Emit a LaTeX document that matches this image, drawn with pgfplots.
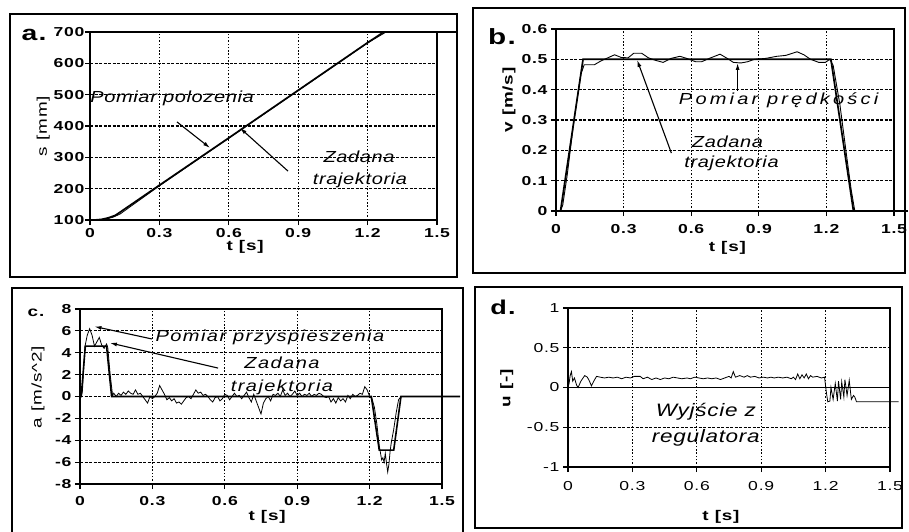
\documentclass[border=0pt]{standalone}
\usepackage{pgfplots}
\pgfplotsset{compat=1.18}
\usepackage{fontspec}
\setmainfont{Liberation Sans}
\newfontfamily\wide[FakeStretch=1.35,LetterSpace=6]{Liberation Sans}
\newfontfamily\note[FakeStretch=1.25,LetterSpace=4]{Liberation Sans}
\usetikzlibrary{arrows.meta}

\newcommand\tk{\wide\bfseries\fontsize{13}{14}\selectfont}
\newcommand\tkl{\wide\fontsize{13}{14}\selectfont}
\newcommand\lab{\wide\bfseries\fontsize{14}{15}\selectfont}
\newcommand\ann{\note\itshape\fontsize{16}{17}\selectfont}

\pgfplotsset{
  panel/.style={
    scale only axis,
    anchor=south west,
    xmin=0, xmax=1.5,
    xtick={0,0.3,0.6,0.9,1.2,1.5},
    axis line style={line width=1.4pt},
    tick style={line width=1.1pt,black},
    tick align=outside,
    major tick length=5pt,
    xtick pos=bottom, ytick pos=left,
    grid=major,
    x grid style={line width=1.2pt, black, dash pattern=on 1.5pt off 1.8pt},
    y grid style={line width=1.1pt, black, dash pattern=on 3pt off 1.5pt},
    tick label style={font=\tk},
    /pgf/number format/assume math mode=true,
    label style={font=\lab, anchor=center},
    clip=false,
  },
}
\tikzset{arr/.style={line width=1.1pt, -{Latex[length=7pt,width=4pt]}}}

\begin{document}
\begin{tikzpicture}[x=1pt,y=1pt]
\path[use as bounding box] (0,0) rectangle (909,531);

% frames
\draw[line width=1.6pt] (10,517) rectangle (457,254);
\draw[line width=1.6pt] (473,523) rectangle (905,258);
\draw[line width=1.6pt] (12,243) rectangle (463,-2);
\draw[line width=1.6pt] (475,244) rectangle (902,3);

\node[font=\wide\bfseries\fontsize{21}{21}\selectfont] at (34,496) {a.};
\node[font=\wide\bfseries\fontsize{22}{22}\selectfont] at (502,494) {b.};
\node[font=\wide\bfseries\fontsize{14}{14}\selectfont] at (36,218) {c.};
\node[font=\wide\bfseries\fontsize{20}{20}\selectfont] at (503,224) {d.};

% ---------- a ----------
\begin{axis}[panel, at={(90pt,311pt)}, width=347pt, height=188pt,
  ymin=100, ymax=700, ytick={100,200,300,400,500,600,700},
  yticklabel style={xshift=3pt},
  xlabel={t [s]}, ylabel={s [mm]},
  xlabel style={at={(axis description cs:0.447,-0.144)}},
  ylabel style={at={(axis description cs:-0.135,0.5)}, font=\wide\fontsize{14}{15}\selectfont}]
\addplot[black, line width=1.7pt] coordinates {
  (0,100) (0.02,100) (0.05,102) (0.08,107) (0.11,115) (0.13,125)
  (0.3,211) (0.6,362) (0.9,514) (1.2,666) (1.27,700) (1.585,700)};
\addplot[black, line width=0.8pt] coordinates {
  (0,100) (0.04,100) (0.07,103) (0.10,109) (0.13,119) (0.16,135)
  (0.3,209) (0.6,361) (0.9,513) (1.2,665) (1.28,700) (1.5,700)};
\node[font=\ann] at (axis cs:0.355,489) {Pomiar polozenia};
\node[font=\ann] at (axis cs:1.163,301) {Zadana};
\node[font=\ann] at (axis cs:1.167,228) {trajektoria};
\draw[arr] (axis cs:0.376,413) -- (axis cs:0.519,330);
\draw[arr] (axis cs:0.856,256) -- (axis cs:0.648,394);
\end{axis}

% ---------- b ----------
\begin{axis}[panel, at={(556pt,320pt)}, width=338pt, height=182pt,
  ymin=0, ymax=0.6, ytick={0,0.1,0.2,0.3,0.4,0.5,0.6},
  xticklabel style={yshift=-5pt},
  xlabel={t [s]}, ylabel={v [m/s]},
  xlabel style={at={(axis description cs:0.507,-0.203)}},
  ylabel style={at={(axis description cs:-0.139,0.61)}}]
\addplot[black, line width=1.7pt] coordinates {
  (0,0) (0.02,0) (0.12,0.5) (1.22,0.5) (1.32,0) (1.562,0)};
\addplot[black, line width=0.9pt] coordinates {
  (0,0) (0.02,0) (0.03,0.02) (0.05,0.12) (0.08,0.3) (0.11,0.45) (0.125,0.482)
  (0.17,0.482) (0.2,0.495) (0.23,0.505) (0.26,0.515) (0.29,0.506) (0.32,0.505)
  (0.345,0.52) (0.38,0.52) (0.41,0.505) (0.44,0.497) (0.475,0.49) (0.51,0.503)
  (0.55,0.51) (0.58,0.503) (0.62,0.492) (0.646,0.492) (0.68,0.503) (0.728,0.517)
  (0.76,0.503) (0.787,0.49) (0.82,0.488) (0.85,0.492) (0.88,0.5) (0.93,0.503)
  (0.98,0.51) (1.02,0.513) (1.07,0.525) (1.1,0.515) (1.13,0.5) (1.166,0.49)
  (1.195,0.49) (1.215,0.5) (1.23,0.48) (1.26,0.35) (1.29,0.18) (1.31,0.07)
  (1.326,0) (1.5,0)};
\node[font=\ann\addfontfeature{LetterSpace=20}] at (axis cs:0.988,0.366) {Pomiar prędkości};
\node[font=\ann] at (axis cs:0.761,0.227) {Zadana};
\node[font=\ann] at (axis cs:0.779,0.158) {trajektoria};
\draw[arr] (axis cs:0.806,0.396) -- (axis cs:0.806,0.488);
\draw[arr] (axis cs:0.512,0.191) -- (axis cs:0.36,0.498);
\end{axis}

% ---------- c ----------
\begin{axis}[panel, at={(80pt,47pt)}, width=362pt, height=175pt,
  ymin=-8, ymax=8, ytick={-8,-6,-4,-2,0,2,4,6,8},
  xticklabel style={yshift=-4pt},
  xlabel={t [s]}, ylabel={a [m/s\textasciicircum 2]},
  xlabel style={at={(axis description cs:0.517,-0.189)}},
  ylabel style={at={(axis description cs:-0.116,0.554)}, font=\wide\fontsize{14}{15}\selectfont}]
\addplot[black, line width=1.6pt] coordinates {
  (0,0) (0.005,0) (0.022,4.6) (0.11,4.6) (0.131,0) (1.207,0)
  (1.24,-4.9) (1.30,-4.9) (1.33,0) (1.575,0)};
\addplot[black, line width=0.8pt] coordinates {
  (0,0) (0.005,0) (0.01,0.5) (0.02,4.5) (0.03,5.6) (0.04,6.2) (0.05,5.6)
  (0.06,4.6) (0.07,5.0) (0.08,5.4) (0.09,4.7) (0.10,4.4) (0.11,4.8) (0.115,4.5)
  (0.125,2.0) (0.135,0.1) (0.14,0.3) (0.15,0.0) (0.16,0.3) (0.17,0.1) (0.18,0.4)
  (0.19,0.2) (0.20,0.5) (0.21,0.3) (0.22,0.2) (0.23,0.6) (0.24,0.2) (0.25,0.3)
  (0.26,0.0) (0.27,-0.3) (0.28,-0.6) (0.29,0.0) (0.30,-0.2) (0.31,0.0) (0.32,0.3)
  (0.33,1.0) (0.34,0.6) (0.35,0.2) (0.36,-0.3) (0.37,-0.1) (0.38,-0.4) (0.39,-0.2)
  (0.40,-0.6) (0.41,-0.5) (0.42,-0.7) (0.43,-0.4) (0.44,-0.1) (0.45,0.0) (0.46,-0.2)
  (0.47,0.2) (0.48,0.6) (0.49,0.3) (0.50,0.4) (0.51,0.1) (0.52,0.2) (0.53,0.0)
  (0.54,-0.3) (0.55,-0.5) (0.56,-0.1) (0.57,0.0) (0.58,-0.4) (0.59,-0.2) (0.60,0.2)
  (0.61,0.1) (0.62,-0.3) (0.63,0.0) (0.64,0.3) (0.65,0.0) (0.66,0.1) (0.67,-0.2)
  (0.68,0.1) (0.69,0.4) (0.70,-0.1) (0.71,-0.5) (0.72,0.2) (0.73,-0.4) (0.74,-1.0)
  (0.75,-1.6) (0.76,-0.6) (0.77,-0.2) (0.78,0.0) (0.79,-0.4) (0.80,0.2) (0.81,0.1)
  (0.82,0.3) (0.83,0.0) (0.84,0.6) (0.85,0.1) (0.86,0.3) (0.87,0.0) (0.88,0.2)
  (0.89,0.5) (0.90,0.1) (0.91,0.3) (0.92,0.0) (0.93,0.2) (0.94,0.1) (0.95,0.3)
  (0.96,0.0) (0.97,0.2) (0.98,0.1) (0.99,0.3) (1.00,0.2) (1.01,0.0) (1.02,-0.1)
  (1.03,0.0) (1.04,-0.5) (1.05,-0.2) (1.06,-0.6) (1.07,-0.1) (1.08,-0.4) (1.09,-0.2)
  (1.10,-0.5) (1.11,0.1) (1.12,-0.2) (1.13,0.2) (1.14,0.0) (1.15,0.1) (1.16,0.3)
  (1.17,0.2) (1.18,0.9) (1.19,0.6) (1.20,0.0) (1.21,-0.2) (1.22,-1.0) (1.23,-2.5)
  (1.24,-4.5) (1.25,-5.8) (1.255,-5.6) (1.26,-6.0) (1.265,-5.2) (1.27,-6.1)
  (1.275,-6.9) (1.28,-6.2) (1.285,-5.0) (1.29,-4.2) (1.30,-3.0) (1.31,-1.5)
  (1.32,-0.3) (1.33,0)};
\node[font=\ann\addfontfeature{LetterSpace=9}] at (axis cs:0.787,5.44) {Pomiar przyspieszenia};
\node[font=\ann\addfontfeature{LetterSpace=9}] at (axis cs:0.837,3.06) {Zadana};
\node[font=\ann\addfontfeature{LetterSpace=9}] at (axis cs:0.837,0.87) {trajektoria};
\draw[arr] (axis cs:0.298,5.26) -- (axis cs:0.06,6.4);
\draw[arr] (axis cs:0.572,2.6) -- (axis cs:0.124,4.9);
\end{axis}

% ---------- d ----------
\begin{axis}[panel, at={(568pt,64pt)}, width=322pt, height=159pt,
  ymin=-1, ymax=1, ytick={-1,-0.5,0,0.5,1},
  extra y ticks={0}, extra y tick labels={},
  extra y tick style={grid=major, y grid style={black, line width=1pt, solid}, major tick length=0pt},
  tick label style={font=\tkl},
  xticklabel style={yshift=-6pt},
  xlabel={t [s]}, ylabel={u [-]},
  xlabel style={at={(axis description cs:0.475,-0.314)}},
  ylabel style={at={(axis description cs:-0.19,0.497)}}]
\addplot[black, line width=0.8pt] coordinates {
  (0,0) (0.005,0.05) (0.01,0.15) (0.016,0.2) (0.022,0.08) (0.03,0.12) (0.04,0.03)
  (0.047,0.0) (0.06,0.08) (0.07,0.12) (0.078,0.15) (0.09,0.13) (0.10,0.08)
  (0.109,0.02) (0.12,0.08) (0.133,0.14) (0.15,0.13) (0.17,0.12) (0.19,0.13)
  (0.21,0.12) (0.23,0.13) (0.25,0.11) (0.27,0.13) (0.29,0.12) (0.31,0.14)
  (0.336,0.14) (0.35,0.11) (0.37,0.13) (0.39,0.1) (0.41,0.12) (0.43,0.1)
  (0.45,0.12) (0.47,0.11) (0.49,0.13) (0.51,0.12) (0.53,0.11) (0.555,0.12)
  (0.57,0.11) (0.59,0.13) (0.61,0.12) (0.63,0.11) (0.65,0.12) (0.67,0.11)
  (0.69,0.12) (0.71,0.1) (0.73,0.12) (0.75,0.14) (0.76,0.12) (0.77,0.2)
  (0.78,0.13) (0.80,0.15) (0.82,0.13) (0.835,0.15) (0.85,0.13) (0.87,0.14)
  (0.89,0.12) (0.91,0.13) (0.93,0.12) (0.945,0.13) (0.96,0.12) (0.98,0.13)
  (1.00,0.12) (1.02,0.13) (1.04,0.11) (1.05,0.13) (1.06,0.1) (1.07,0.17)
  (1.08,0.11) (1.09,0.16) (1.10,0.12) (1.11,0.17) (1.12,0.11) (1.13,0.15)
  (1.14,0.13) (1.16,0.14) (1.18,0.12) (1.195,0.13) (1.203,-0.05) (1.21,-0.18)
  (1.22,-0.17) (1.225,0.0) (1.235,-0.15) (1.245,0.05) (1.255,-0.17) (1.26,0.08)
  (1.27,-0.15) (1.275,0.07) (1.285,-0.12) (1.29,0.1) (1.30,-0.1) (1.31,0.09)
  (1.32,-0.15) (1.33,-0.1) (1.336,-0.12) (1.344,-0.18) (1.54,-0.18)};
\node[font=\note\itshape\fontsize{18}{19}\selectfont] at (axis cs:0.642,-0.31) {Wyjście z};
\node[font=\note\itshape\fontsize{18}{19}\selectfont] at (axis cs:0.642,-0.635) {regulatora};
\end{axis}
\end{tikzpicture}
\end{document}
